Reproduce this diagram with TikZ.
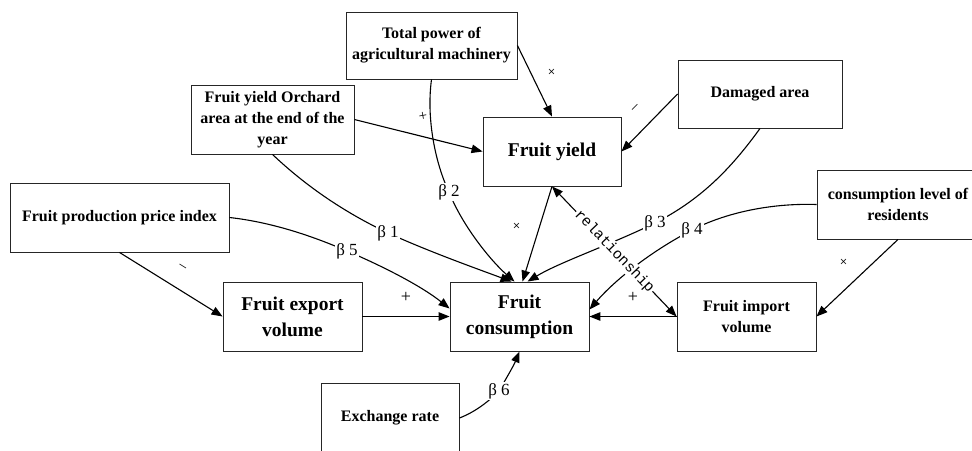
\documentclass[tikz,border=0pt]{standalone}
\usepackage{fontspec}
\setmainfont{Liberation Serif}
\newfontfamily\relfont{Liberation Mono}
\usetikzlibrary{arrows.meta,calc}
\tikzset{
  box/.style={draw=black!85, line width=0.9pt, align=center, inner sep=0pt},
  big/.style={font=\fontsize{19.5}{26}\selectfont\bfseries},
  small/.style={font=\fontsize{16}{21}\selectfont\bfseries},
  tip/.tip={Triangle[length=11pt,width=8.5pt]},
  arr/.style={-tip, line width=1.1pt},
  beta/.style={fill=white, inner sep=1.5pt, font=\fontsize{17}{17}\selectfont},
  sgn/.style={inner sep=0pt, font=\fontsize{15}{15}\selectfont},
}

\begin{document}
\begin{tikzpicture}[x=1pt,y=-1pt]
	\clip (0,0) rectangle (972,450);
	\node[box,small,minimum width=171pt,minimum height=67pt] (pow) at (431.5,45.5) {Total power of\\agricultural machinery};
	\node[box,small,minimum width=163pt,minimum height=69pt] (orch) at (272.5,119.5) {Fruit yield Orchard\\area at the end of the\\year};
	\node[box,big,minimum width=138pt,minimum height=69pt] (yld) at (552,151.5) {Fruit yield};
	\node[box,small,minimum width=164pt,minimum height=68pt] (dmg) at (760,94) {Damaged area};
	\node[box,small,minimum width=162pt,minimum height=69pt] (res) at (898,204.5) {consumption level of\\residents};
	\node[box,small,minimum width=219pt,minimum height=69pt] (ppi) at (119.5,217.5) {Fruit production price index};
	\node[box,big,minimum width=139pt,minimum height=69pt] (exp) at (292.5,316.5) {Fruit export\\volume};
	\node[box,big,minimum width=139pt,minimum height=69pt] (con) at (519.5,316.5) {Fruit\\consumption};
	\node[box,small,minimum width=139pt,minimum height=69pt] (imp) at (746.5,316.5) {Fruit import\\volume};
	\node[box,small,minimum width=138pt,minimum height=70pt] (exr) at (390,418) {Exchange rate};

	\coordinate (b1) at (388,233);
	\coordinate (b2) at (449,192);
	\coordinate (b3) at (655,223);
	\coordinate (b4) at (692,230);
	\coordinate (b5) at (347,251);
	\coordinate (b6) at (499,391);

	\draw[arr] (pow.east) -- (yld.north);
	\draw[arr] (orch.east) -- (yld.west);
	\draw[arr] (dmg.west) -- (yld.east);
	\draw[arr] (ppi.south) -- (exp.west);
	\draw[arr] (exp.east) -- (con.west);
	\draw[arr] (imp.west) -- (con.east);
	\draw[arr] (res.south) -- (imp.east);
	\draw[arr] (yld.south) -- ($(con.north)+(3,0)$);

	\draw[arr] (orch.south) .. controls (310,190) and (350,215) .. (b1) node[beta] {β 1}
		.. controls (430,252) and (475,268) .. ($(con.north)+(-8,0)$);
	\draw[arr] (pow.south) .. controls (426,120) and (436,165) .. (b2) node[beta] {β 2}
		.. controls (462,225) and (490,260) .. ($(con.north)+(-5,0)$);
	\draw[arr] (dmg.south) .. controls (730,170) and (700,200) .. (b3) node[beta] {β 3}
		.. controls (610,245) and (560,262) .. ($(con.north)+(8,0)$);
	\draw[arr] (res.west) .. controls (770,203) and (725,213) .. (b4) node[beta] {β 4}
		.. controls (650,252) and (615,280) .. ($(con.east)+(0,-7)$);
	\draw[arr] (ppi.east) .. controls (270,222) and (310,235) .. (b5) node[beta] {β 5}
		.. controls (380,265) and (420,285) .. ($(con.west)+(0,-8)$);
	\draw[arr] (exr.east) .. controls (475,412) and (488,402) .. (b6) node[beta] {β 6}
		.. controls (507,377) and (514,365) .. (con.south);

	\draw[tip-tip, line width=1.1pt] (yld.south) -- node[sloped, fill=white, inner sep=1pt, font=\relfont\fontsize{15}{15}\selectfont] {relationship} (imp.west);

	\foreach \p/\r in {(552,73)/45, (423,117)/10, (517,227)/45, (844,263)/45}
		\node[sgn, rotate=\r] at \p {+};
	\foreach \p/\r in {(636,108)/45, (182,268)/-32}
		\node[sgn, rotate=\r] at \p {–};
	\node[font=\fontsize{18}{18}\selectfont] at (406,297) {+};
	\node[font=\fontsize{18}{18}\selectfont] at (633,297) {+};
\end{tikzpicture}
\end{document}
